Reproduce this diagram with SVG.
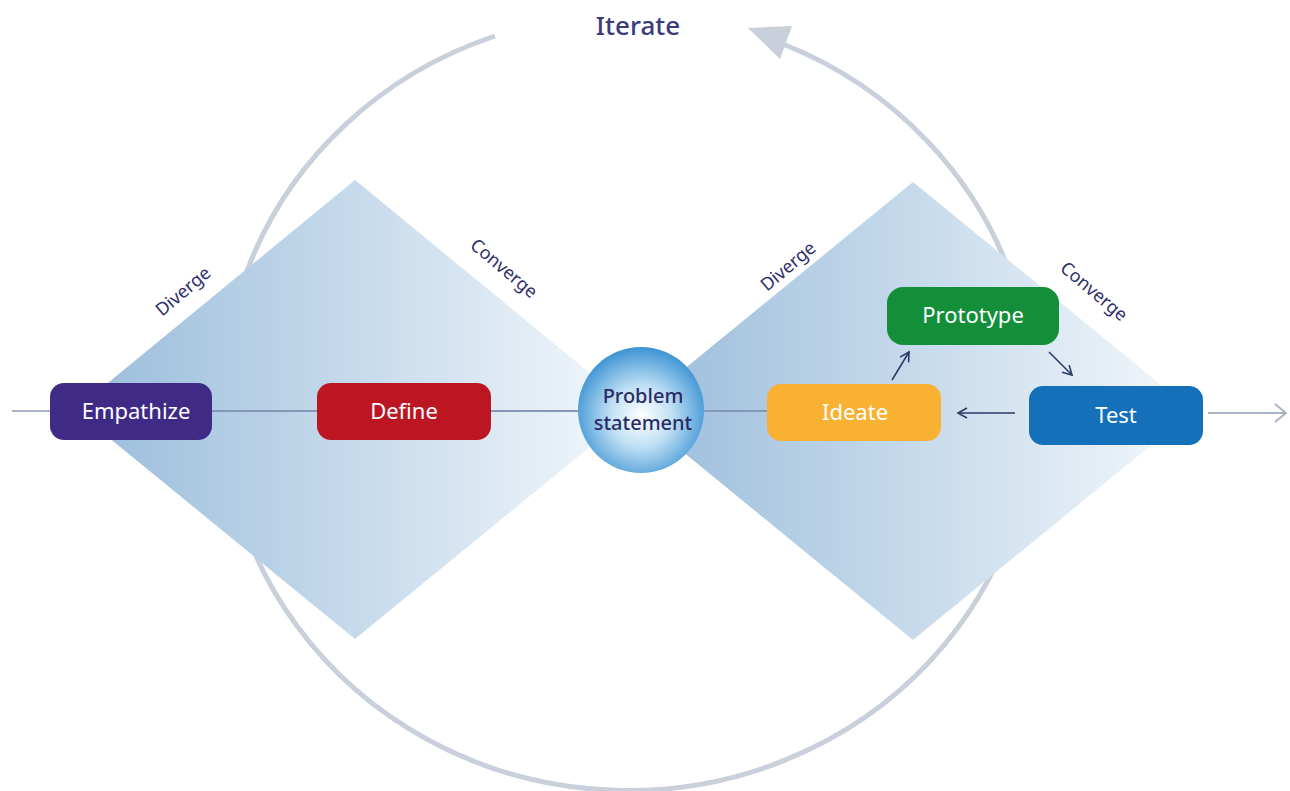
<svg xmlns="http://www.w3.org/2000/svg" width="1290" height="791" viewBox="0 0 1290 791">
<defs>
  <linearGradient id="dia" x1="0" y1="0" x2="1" y2="0">
    <stop offset="0" stop-color="#9abcdb"/>
    <stop offset="0.5" stop-color="#c6daeb"/>
    <stop offset="1" stop-color="#f4f8fc"/>
  </linearGradient>
  <radialGradient id="ball" cx="0.5" cy="0.55" r="0.55" fx="0.5" fy="0.55">
    <stop offset="0" stop-color="#ffffff"/>
    <stop offset="0.45" stop-color="#bfdff4"/>
    <stop offset="1" stop-color="#3c93d3"/>
  </radialGradient>
  <marker id="ah" markerWidth="12" markerHeight="12" refX="10" refY="6" orient="auto" markerUnits="userSpaceOnUse">
    <path d="M1,1 L10,6 L1,11" fill="none" stroke="#2b3a67" stroke-width="1.6"/>
  </marker>
  <marker id="ahg" markerWidth="14" markerHeight="20" refX="12" refY="10" orient="auto" markerUnits="userSpaceOnUse">
    <path d="M1,1 L12,10 L1,19" fill="none" stroke="#aab3c6" stroke-width="2"/>
  </marker>
</defs>
<style>
  text { font-family: "Noto Sans", "Open Sans", sans-serif; }
  .bt { fill: #ffffff; font-size: 22px; text-anchor: middle; }
  .lbl { fill: #2e2f6c; font-size: 18px; text-anchor: middle; }
  .arr { stroke: #2b3a67; stroke-width: 1.6; fill: none; marker-end: url(#ah); }
</style>

<g id="iterate-cycle">
  <path d="M 495 36 A 405 388 0 1 0 783 44" fill="none" stroke="#c9cfdb" stroke-width="5"/>
  <polygon points="748,28 792,26 780,59" fill="#c9cfdb"/>
  <text x="638" y="35" font-size="26" font-weight="500" fill="#3a3a7c" text-anchor="middle">Iterate</text>
</g>

<g id="diamond-left">
  <polygon points="355,180 635,410 355,639 75,410" fill="url(#dia)"/>
</g>
<g id="diamond-right">
  <polygon points="913,182 1193,411 913,640 633,411" fill="url(#dia)"/>
</g>

<g id="labels">
  <text class="lbl" transform="translate(187,296) rotate(-40)">Diverge</text>
  <text class="lbl" transform="translate(500,273) rotate(40)">Converge</text>
  <text class="lbl" transform="translate(792,271) rotate(-40)">Diverge</text>
  <text class="lbl" transform="translate(1090,296) rotate(40)">Converge</text>
</g>

<g id="connectors">
  <line x1="12" y1="411" x2="50" y2="411" stroke="#aab3c6" stroke-width="2"/>
  <line x1="212" y1="411" x2="767" y2="411" stroke="#8497b8" stroke-width="2"/>
  <line x1="1208" y1="413" x2="1286" y2="413" stroke="#aab3c6" stroke-width="2" marker-end="url(#ahg)"/>
  <line class="arr" x1="892" y1="380" x2="909" y2="352"/>
  <line class="arr" x1="1049" y1="352" x2="1072" y2="375"/>
  <line class="arr" x1="1015" y1="413" x2="958" y2="413"/>
</g>

<g id="empathize">
  <rect x="50" y="383" width="162" height="57" rx="14" fill="#3f2b86"/>
  <text class="bt" x="136" y="419">Empathize</text>
</g>
<g id="define">
  <rect x="317" y="383" width="174" height="57" rx="14" fill="#bb1622"/>
  <text class="bt" x="404" y="419">Define</text>
</g>
<g id="problem-statement">
  <circle cx="641" cy="410" r="63" fill="url(#ball)"/>
  <text x="643" y="403" font-size="20" font-weight="500" fill="#2a2b66" text-anchor="middle">Problem</text>
  <text x="643" y="430" font-size="20" font-weight="500" fill="#2a2b66" text-anchor="middle">statement</text>
</g>
<g id="ideate">
  <rect x="767" y="384" width="174" height="57" rx="14" fill="#f8b133"/>
  <text class="bt" x="855" y="420">Ideate</text>
</g>
<g id="prototype">
  <rect x="887" y="287" width="172" height="58" rx="16" fill="#138f3a"/>
  <text class="bt" x="973" y="323">Prototype</text>
</g>
<g id="test">
  <rect x="1029" y="386" width="174" height="59" rx="14" fill="#1470b8"/>
  <text class="bt" x="1116" y="423">Test</text>
</g>
</svg>
